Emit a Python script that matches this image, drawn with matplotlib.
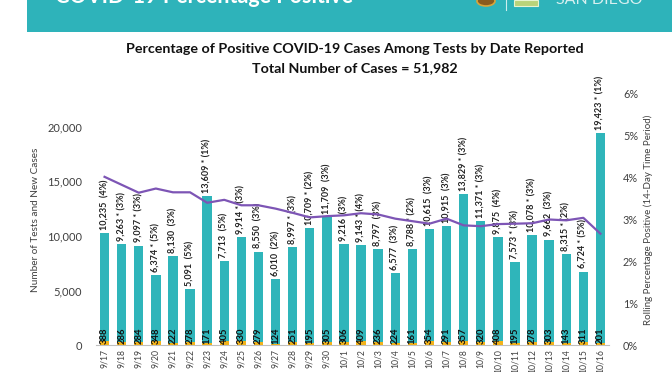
import matplotlib
matplotlib.use("Agg")
import matplotlib.pyplot as plt
from matplotlib.patches import Rectangle, Circle
from matplotlib.ticker import FuncFormatter, FixedLocator

plt.rcParams['font.family'] = ['Lato', 'DejaVu Sans']

dates = ["9/17", "9/18", "9/19", "9/20", "9/21", "9/22", "9/23", "9/24", "9/25", "9/26",
         "9/27", "9/28", "9/29", "9/30", "10/1", "10/2", "10/3", "10/4", "10/5", "10/6",
         "10/7", "10/8", "10/9", "10/10", "10/11", "10/12", "10/13", "10/14", "10/15", "10/16"]
tests = [10235, 9263, 9097, 6374, 8130, 5091, 13609, 7713, 9914, 8550,
         6010, 8997, 10709, 11709, 9216, 9143, 8797, 6577, 8788, 10615,
         10915, 13829, 11371, 9875, 7573, 10078, 9662, 8315, 6724, 19423]
new_cases = [388, 286, 284, 348, 222, 278, 171, 405, 330, 279,
             124, 251, 195, 305, 306, 409, 236, 224, 161, 354,
             291, 357, 320, 408, 195, 278, 303, 143, 311, 201]
daily_pct = ["4%", "3%", "3%", "5%", "3%", "5%", "1%", "5%", "3%", "3%",
             "2%", "3%", "2%", "3%", "3%", "4%", "3%", "3%", "2%", "3%",
             "3%", "3%", "3%", "4%", "3%", "3%", "3%", "2%", "5%", "1%"]
starred = [False, True, True, True, False, False, True, False, True, False,
           False, True, True, False, False, True, False, False, True, False,
           False, True, True, False, True, True, False, True, True, True]
rolling_pct = [4.02, 3.83, 3.64, 3.74, 3.65, 3.65, 3.40, 3.47, 3.34, 3.34,
               3.26, 3.16, 3.05, 3.08, 3.10, 3.15, 3.12, 3.02, 2.96, 2.90,
               3.02, 2.86, 2.84, 2.89, 2.90, 2.91, 3.00, 2.98, 3.04, 2.66]

TEAL = "#2FB5BA"
GOLD = "#F2B31B"
PURPLE = "#7D55B5"
TXT = "#404040"

fig = plt.figure(figsize=(6.72, 3.72), dpi=100)
fig.patch.set_facecolor("white")

# header banner
fig.patches.append(Rectangle((27/672, 1 - 32/372), 1 - 27/672, 32/372,
                             transform=fig.transFigure, facecolor="#2EB3BA",
                             edgecolor="none", zorder=0))
fig.text(55/672, 1 - 3/372, "COVID-19 Percentage Positive", color="white",
         fontsize=15.5, fontweight="bold", ha="left", va="baseline")
fig.text(556/672, 1 - 4/372, "SAN DIEGO", color="#D8F0F0",
         fontsize=11.5, ha="left", va="baseline")
fig.patches.append(Circle((486/672, 1 - 1/372), 9/672, transform=fig.transFigure,
                          facecolor="#8A5A1E", edgecolor="#D9A43A", lw=1.2))
fig.lines.append(plt.Line2D([506/672, 506/672], [1, 1 - 10/372],
                            transform=fig.transFigure, color="#CDEEEF", lw=0.8))
fig.patches.append(Rectangle((514/672, 1 - 6/372), 24/672, 6/372,
                             transform=fig.transFigure, facecolor="#B9D37A",
                             edgecolor="#E8F4D0", lw=0.8))

# title
fig.text(355/672, 1 - 49/372, "Percentage of Positive COVID-19 Cases Among Tests by Date Reported",
         ha="center", va="center", fontsize=10.3, fontweight="bold", color="#111111")
fig.text(355/672, 1 - 68/372, "Total Number of Cases = 51,982",
         ha="center", va="center", fontsize=10.3, fontweight="bold", color="#111111")

ax = fig.add_axes([96/672, 27/372, 513/672, 251/372])
x = list(range(len(dates)))
w = 0.55
ax.bar(x, tests, width=w, color=TEAL, zorder=2)
ax.bar(x, new_cases, width=w, color=GOLD, zorder=3)
ax.set_xlim(-0.5, len(dates) - 0.5)
ax.set_ylim(0, 23000)
ax.yaxis.set_major_locator(FixedLocator([0, 5000, 10000, 15000, 20000]))
ax.yaxis.set_major_formatter(FuncFormatter(lambda v, p: f"{int(v):,}"))
ax.set_xticks(x)
ax.set_xticklabels(dates, rotation=90, fontsize=6.2, color=TXT)
ax.tick_params(axis="x", length=0, pad=3)
ax.tick_params(axis="y", length=0, labelsize=8, labelcolor=TXT, pad=10)
for s in ["top", "right", "left"]:
    ax.spines[s].set_visible(False)
ax.spines["bottom"].set_color("#BFBFBF")
ax.set_ylabel("Number of Tests and New Cases", fontsize=7.2, color=TXT, labelpad=5)

for i in x:
    lbl = f"{tests[i]:,}" + (" * " if starred[i] else "  ") + f"({daily_pct[i]})"
    ax.text(i, tests[i] + 300, lbl, rotation=90, ha="center", va="bottom",
            fontsize=6.5, color="#222222", fontweight="bold", zorder=5)
    ax.text(i, 120, f"{new_cases[i]}", rotation=90, ha="center", va="bottom",
            fontsize=6.8, color="#111111", fontweight="bold", zorder=5)

ax2 = ax.twinx()
ax2.plot(x, rolling_pct, color=PURPLE, lw=1.6, zorder=4)
ax2.set_ylim(0, 6)
ax2.yaxis.set_major_locator(FixedLocator([0, 1, 2, 3, 4, 5, 6]))
ax2.yaxis.set_major_formatter(FuncFormatter(lambda v, p: f"{int(v)}%"))
ax2.tick_params(axis="y", length=0, labelsize=7.8, labelcolor=TXT, pad=10)
for s in ["top", "right", "left", "bottom"]:
    ax2.spines[s].set_visible(False)
ax2.set_ylabel("Rolling Percentage Positive (14-Day Time Period)", fontsize=7.0,
               color=TXT, labelpad=4)

fig.savefig("out.png", dpi=100)
